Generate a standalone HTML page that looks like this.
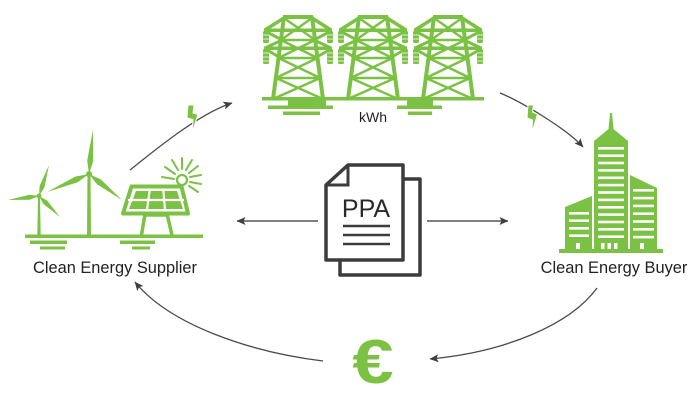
<!DOCTYPE html>
<html><head><meta charset="utf-8"><style>
html,body{margin:0;padding:0;background:#fff;}
svg{display:block;}
</style></head><body>
<svg width="700" height="400" viewBox="0 0 700 400" xmlns="http://www.w3.org/2000/svg">
<defs>
<marker id="ah" markerWidth="10" markerHeight="8" refX="8.5" refY="4" orient="auto" markerUnits="userSpaceOnUse">
<path d="M0,0 L9,4 L0,8 L2,4 z" fill="#3f3f3f"/>
</marker>
<g id="tower" stroke="#7bc143" fill="none">
<rect x="-15" y="15" width="30" height="4" fill="#7bc143" stroke="none"/>
<path d="M-14,18 L-33,30 M14,18 L33,30" stroke-width="3.5"/>
<rect x="-34" y="28.5" width="68" height="3.5" fill="#7bc143" stroke="none"/>
<path d="M-33,31 L-16,40 M33,31 L16,40 M-16,40 L-33,48 M16,40 L33,48" stroke-width="3"/>
<rect x="-34" y="46.5" width="68" height="3.5" fill="#7bc143" stroke="none"/>
<path d="M-33,49 L-17,58 M33,49 L17,58" stroke-width="3"/>
<path d="M-14,17 L-25,99 M14,17 L25,99" stroke-width="4"/>
<path d="M-17,40 L17,40 M-19.5,58 L19.5,58 M-22.2,78 L22.2,78" stroke-width="2.5"/>
<path d="M-14,18 L17.1,40 M14,18 L-17.1,40 M-17.1,40 L19.5,58 M17.1,40 L-19.5,58 M-19.5,58 L22.2,78 M19.5,58 L-22.2,78 M-22.2,78 L25,99 M22.2,78 L-25,99" stroke-width="2.5"/>
<rect x="-35" y="31" width="6" height="12" rx="1.5" fill="#7bc143" stroke="none"/>
<rect x="29" y="31" width="6" height="12" rx="1.5" fill="#7bc143" stroke="none"/>
<rect x="-35" y="49" width="6" height="15" rx="1.5" fill="#7bc143" stroke="none"/>
<rect x="29" y="49" width="6" height="15" rx="1.5" fill="#7bc143" stroke="none"/>
<path d="M-35,35 h6 M29,35 h6 M-35,39 h6 M29,39 h6 M-35,53 h6 M29,53 h6 M-35,57 h6 M29,57 h6 M-35,61 h6 M29,61 h6" stroke="#fff" stroke-width="0.8"/>
</g>
</defs>

<!-- Towers -->
<use href="#tower" x="298" y="0"/>
<use href="#tower" x="373" y="0"/>
<use href="#tower" x="448" y="0"/>
<g fill="#7bc143">
<rect x="262" y="97" width="222" height="3.5"/>
<rect x="288" y="100" width="38" height="6"/>
<rect x="268" y="105.5" width="65" height="3.5"/>
<rect x="283" y="111.5" width="37" height="3.5"/>
<rect x="407" y="100" width="26" height="6"/>
<rect x="397" y="105.5" width="45" height="3.5"/>
<rect x="408" y="111.5" width="24" height="3.5"/>
</g>
<text x="373" y="122" font-family="Liberation Sans, sans-serif" font-size="14" fill="#222" text-anchor="middle">kWh</text>

<!-- Wind turbines -->
<g fill="#7bc143">
<polygon points="87.5,176 90.5,176 91,236 87,236"/>
<polygon points="89,174 93.2,161.1 93,130 87.2,160.5"/>
<polygon points="89,174 77.6,182.2 47,192 75.2,176.6"/>
<polygon points="89,174 100.8,179.4 122,200 97,184.2"/>
<circle cx="89" cy="174" r="3"/>
<polygon points="38,198 40,198 40.7,236 37.3,236"/>
<polygon points="39,196 44.4,187.5 49,165 39.6,185.9"/>
<polygon points="39,196 30,199.7 8,200 29.4,194.7"/>
<polygon points="39,196 47.1,200.5 60,217 43.5,204.1"/>
<circle cx="39" cy="196" r="2.5"/>
<rect x="25" y="234.5" width="178" height="3.5"/>
<rect x="30" y="240.5" width="37" height="3.5"/>
<rect x="40" y="246.5" width="25" height="3"/>
<rect x="120" y="240.5" width="35" height="3.5"/>
<rect x="132" y="246.5" width="18" height="3"/>
</g>
<!-- Sun -->
<g stroke="#7bc143" stroke-linecap="round">
<path d="M174,179 L162,177 M175,174 L165,167 M178,170 L172,160 M182,169 L182,158 M186,170 L192,160 M189,173 L198,166 M190,177 L201,175 M190,182 L201,184 M189,186 L198,192" stroke-width="2"/>
</g>
<circle cx="182" cy="180" r="5" fill="#fff" stroke="#7bc143" stroke-width="2.2"/>
<!-- Solar panel -->
<path d="M145,214 L141.5,235 M167,214 L172,235 M145,215 L167,215" stroke="#7bc143" stroke-width="3.5" fill="none"/>
<polygon points="131.5,186.5 181.5,186.5 188,213.5 123,213.5" fill="#fff" stroke="#7bc143" stroke-width="4" stroke-linejoin="round"/>
<polygon points="136,191 177,191 183,209 129,209" fill="#7bc143"/>
<path d="M128,200 L184,200 M149.7,190 L147,210 M163.3,190 L165,210" stroke="#fff" stroke-width="2.2"/>
<text x="115" y="273" font-family="Liberation Sans, sans-serif" font-size="16.4" fill="#222" text-anchor="middle">Clean Energy Supplier</text>

<!-- Building -->
<g fill="#7bc143">
<polygon points="610,113 612,113 613.5,129 608.5,129"/>
<polygon points="594,141 611,127 628,141"/>
<rect x="594" y="140.5" width="34" height="110"/>
<polygon points="565,207 592,196 592,250 565,250"/>
<polygon points="630,175 657,188 657,250 630,250"/>
<rect x="559" y="249" width="104" height="4"/>
</g>
<g fill="#fff">
<rect x="598" y="147" width="26" height="2.6"/><rect x="598" y="154.4" width="26" height="2.6"/><rect x="598" y="161.7" width="26" height="2.6"/><rect x="598" y="169.1" width="26" height="2.6"/><rect x="598" y="176.5" width="26" height="2.6"/><rect x="598" y="183.8" width="26" height="2.6"/><rect x="598" y="191.2" width="26" height="2.6"/><rect x="598" y="198.6" width="26" height="2.6"/><rect x="598" y="206" width="26" height="2.6"/><rect x="598" y="213.3" width="26" height="2.6"/><rect x="598" y="220.7" width="26" height="2.6"/><rect x="598" y="228" width="26" height="2.6"/><rect x="598" y="235.4" width="26" height="2.6"/>
<rect x="569" y="212" width="20" height="2.6"/><rect x="569" y="219.4" width="20" height="2.6"/><rect x="569" y="227" width="20" height="2.6"/><rect x="569" y="234.4" width="20" height="2.6"/>
<rect x="633" y="189" width="21" height="2.6"/><rect x="633" y="196.8" width="21" height="2.6"/><rect x="633" y="204.6" width="21" height="2.6"/><rect x="633" y="212.4" width="21" height="2.6"/><rect x="633" y="220.2" width="21" height="2.6"/><rect x="633" y="228" width="21" height="2.6"/><rect x="633" y="235.8" width="21" height="2.6"/>
<rect x="576" y="243" width="4" height="6"/><rect x="601" y="243" width="3.5" height="6"/><rect x="607.5" y="243" width="3.5" height="6"/><rect x="614" y="243" width="3.5" height="6"/><rect x="640" y="243" width="4" height="6"/>
</g>
<text x="614" y="273" font-family="Liberation Sans, sans-serif" font-size="16.4" fill="#222" text-anchor="middle">Clean Energy Buyer</text>

<!-- PPA document -->
<rect x="340" y="179" width="80" height="96" fill="#fff" stroke="#3c3c3c" stroke-width="3.5" stroke-linejoin="round"/>
<polygon points="326,185 348,165 403,165 403,260 326,260" fill="#fff" stroke="#3c3c3c" stroke-width="3.5" stroke-linejoin="round"/>
<path d="M348,165 L348,185 L326,185" fill="none" stroke="#3c3c3c" stroke-width="3"/>
<text x="366" y="217" font-family="Liberation Sans, sans-serif" font-size="25" fill="#2a2a2a" text-anchor="middle">PPA</text>
<path d="M343,226 H390 M343,235 H390 M343,244 H390" stroke="#3c3c3c" stroke-width="2.5"/>
<path d="M318,221 H237" stroke="#555" stroke-width="1.4" marker-end="url(#ah)"/>
<path d="M427,221 H508" stroke="#555" stroke-width="1.4" marker-end="url(#ah)"/>

<!-- Curved arrows -->
<g fill="none" stroke="#4a4a4a" stroke-width="1.3">
<path d="M130,170 C155,150 200,113 232,103" marker-end="url(#ah)"/>
<path d="M500,93 C520,101 567,129 583,147" marker-end="url(#ah)"/>
<path d="M597,288 C570,325 505,352 430,359" marker-end="url(#ah)"/>
<path d="M323,361 C250,352 170,325 135,282" marker-end="url(#ah)"/>
</g>

<!-- Bolts -->
<polygon points="188,105 194,105 193,113 198,114.5 192,133 193,119.5 187,118" fill="#7bc143" stroke="#fff" stroke-width="1"/>
<polygon points="528,105 533.5,105 532.5,112 537.5,114 532,133 532.5,120 527,118" fill="#7bc143" stroke="#fff" stroke-width="1"/>

<!-- Euro -->
<text x="373" y="383" font-family="Liberation Sans, sans-serif" font-size="62" font-weight="bold" fill="#7bc143" text-anchor="middle" transform="translate(373,0) scale(1.2,1) translate(-373,0)">€</text>
</svg>
</body></html>
